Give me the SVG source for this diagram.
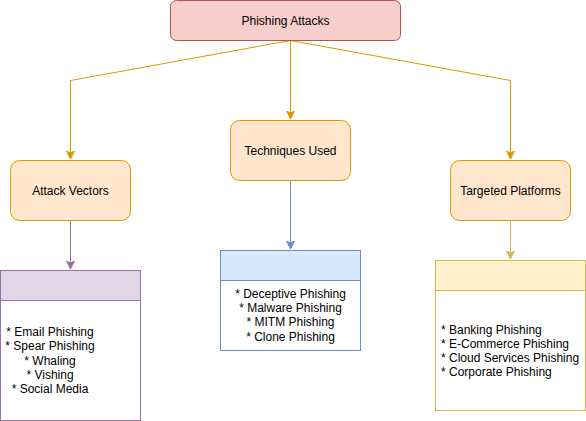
<svg xmlns="http://www.w3.org/2000/svg" width="586" height="421" viewBox="0 0 586 421">
<defs>
<style>
text{font-family:"Liberation Sans",Arial,sans-serif;font-size:12px;fill:#000}
.c{text-anchor:middle}
.edge{fill:none;stroke-width:1}
</style>
<marker id="aO" markerWidth="10" markerHeight="10" refX="8" refY="4" orient="auto" markerUnits="userSpaceOnUse" viewBox="0 0 10 8"><path d="M0,0 L8,4 L0,8 L2,4 Z" fill="#d79b00" stroke="#d79b00"/></marker>
<marker id="aP" markerWidth="10" markerHeight="10" refX="8" refY="4" orient="auto" markerUnits="userSpaceOnUse" viewBox="0 0 10 8"><path d="M0,0 L8,4 L0,8 L2,4 Z" fill="#9673a6" stroke="#9673a6"/></marker>
<marker id="aB" markerWidth="10" markerHeight="10" refX="8" refY="4" orient="auto" markerUnits="userSpaceOnUse" viewBox="0 0 10 8"><path d="M0,0 L8,4 L0,8 L2,4 Z" fill="#6c8ebf" stroke="#6c8ebf"/></marker>
<marker id="aY" markerWidth="10" markerHeight="10" refX="8" refY="4" orient="auto" markerUnits="userSpaceOnUse" viewBox="0 0 10 8"><path d="M0,0 L8,4 L0,8 L2,4 Z" fill="#d6b656" stroke="#d6b656"/></marker>
</defs>
<rect width="586" height="421" fill="#fff"/>
<g id="connectors">
<path class="edge" d="M290.5,40.5 L70.5,80.5 L70.5,159" stroke="#d79b00" marker-end="url(#aO)"/>
<path class="edge" d="M290.5,40.5 L290.5,119" stroke="#d79b00" marker-end="url(#aO)"/>
<path class="edge" d="M290.5,40.5 L510.5,80.5 L510.5,159" stroke="#d79b00" marker-end="url(#aO)"/>
<path class="edge" d="M70.5,220.5 L70.5,269" stroke="#9673a6" marker-end="url(#aP)"/>
<path class="edge" d="M290.5,180.5 L290.5,249" stroke="#6c8ebf" marker-end="url(#aB)"/>
<path class="edge" d="M510.5,220.5 L510.5,259" stroke="#d6b656" marker-end="url(#aY)"/>
</g>
<g id="phishing-attacks">
<rect x="170.5" y="0.5" width="230" height="40" rx="6" fill="#f8cecc" stroke="#b85450"/>
<text class="c" x="285.5" y="24.5">Phishing Attacks</text>
</g>
<g id="attack-vectors">
<rect x="10.5" y="160.5" width="120" height="60" rx="9" fill="#ffe6cc" stroke="#d79b00"/>
<text class="c" x="70.5" y="194.5">Attack Vectors</text>
</g>
<g id="techniques-used">
<rect x="230.5" y="120.5" width="120" height="60" rx="9" fill="#ffe6cc" stroke="#d79b00"/>
<text class="c" x="290.5" y="154.5">Techniques Used</text>
</g>
<g id="targeted-platforms">
<rect x="450.5" y="160.5" width="120" height="60" rx="9" fill="#ffe6cc" stroke="#d79b00"/>
<text class="c" x="510.5" y="194.5">Targeted Platforms</text>
</g>
<g id="vectors-list">
<rect x="0.5" y="270.5" width="140" height="150" fill="#fff" stroke="#9673a6"/>
<rect x="0.5" y="270.5" width="140" height="30" fill="#e1d5e7" stroke="#9673a6"/>
<text class="c" x="50" y="336">* Email Phishing</text>
<text class="c" x="50" y="350.3">* Spear Phishing</text>
<text class="c" x="50" y="364.6">* Whaling</text>
<text class="c" x="50" y="378.9">* Vishing</text>
<text class="c" x="50" y="393.2">* Social Media</text>
</g>
<g id="techniques-list">
<rect x="220.5" y="250.5" width="140" height="100" fill="#fff" stroke="#6c8ebf"/>
<rect x="220.5" y="250.5" width="140" height="30" fill="#dae8fc" stroke="#6c8ebf"/>
<text class="c" x="290.5" y="297.8">* Deceptive Phishing</text>
<text class="c" x="290.5" y="312.1">* Malware Phishing</text>
<text class="c" x="290.5" y="326.4">* MITM Phishing</text>
<text class="c" x="290.5" y="340.7">* Clone Phishing</text>
</g>
<g id="platforms-list">
<rect x="435.5" y="260.5" width="150" height="150" fill="#fff" stroke="#d6b656"/>
<rect x="435.5" y="260.5" width="150" height="30" fill="#fff2cc" stroke="#d6b656"/>
<text x="441" y="333.5">* Banking Phishing</text>
<text x="441" y="347.8">* E-Commerce Phishing</text>
<text x="441" y="362.1">* Cloud Services Phishing</text>
<text x="441" y="376.4">* Corporate Phishing</text>
</g>
</svg>
